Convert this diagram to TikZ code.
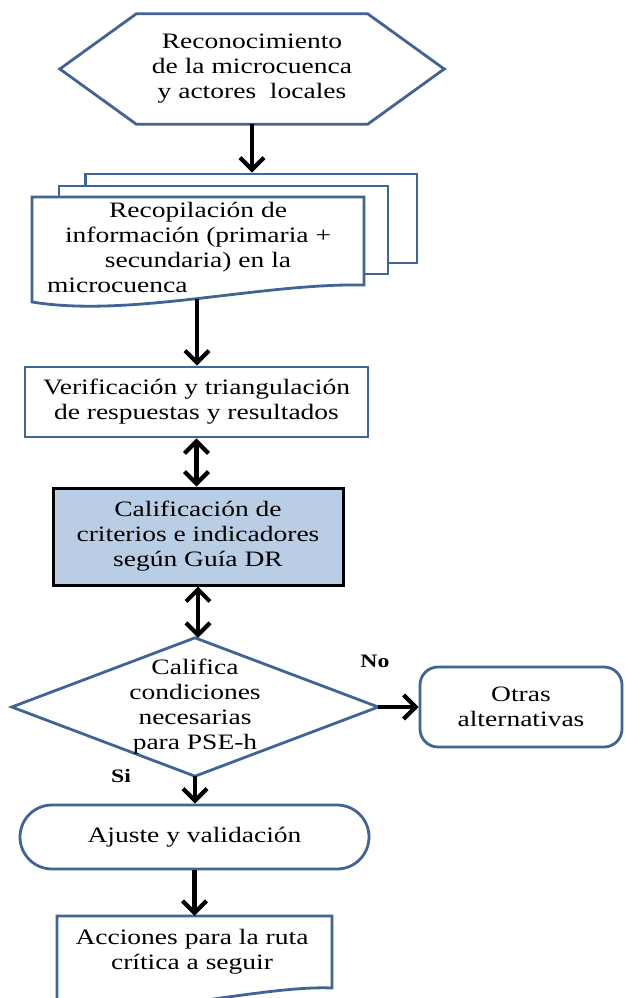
\documentclass[tikz,border=0pt]{standalone}
\usepackage{fontspec}
\setmainfont{Liberation Serif}[FakeStretch=1.25]
\usetikzlibrary{arrows.meta,backgrounds}
\definecolor{shapeblue}{RGB}{65,100,150}
\definecolor{fillblue}{RGB}{185,205,229}
\begin{document}
\begin{tikzpicture}[x=1pt,y=-1pt,
  txt/.style={font=\fontsize{22}{25}\selectfont, align=center, inner sep=0pt},
  outline/.style={draw=shapeblue, line width=2.8pt, line join=miter, fill=white},
  bare/.style={inner sep=0pt},
  arr/.style={line width=4.2pt, -{Straight Barb[length=12pt,width=24pt]}},
  darr/.style={line width=4.2pt, {Straight Barb[length=12pt,width=24pt]}-{Straight Barb[length=12pt,width=24pt]}},
  lbl/.style={font=\fontsize{19}{22}\selectfont\bfseries, inner sep=0pt}
]
\useasboundingbox (0,0) rectangle (624,998);
\clip (0,0) rectangle (624,998);

% hexagon
\node[txt, minimum width=384pt, minimum height=110pt] (hex) at (252,69)
  {Reconocimiento\\de la microcuenca\\y actores\ \ locales};
\begin{scope}[on background layer]
\draw[outline] (hex.west) -- ([xshift=76.5pt]hex.north west) -- ([xshift=-76.5pt]hex.north east)
  -- (hex.east) -- ([xshift=-76.5pt]hex.south east) -- ([xshift=76.5pt]hex.south west) -- cycle;
\end{scope}

% multi-document
\node[outline, bare, minimum width=331.4pt, minimum height=89pt] (mdb) at (251.3,218.5) {};
\node[outline, bare, minimum width=329pt, minimum height=88pt] (mdm) at (223.5,230) {};
\draw[outline] (32,197) -- (364,197) -- (364,285) .. controls (260,283) and (130,318) .. (32,302) -- cycle;
\node[txt] (mdf) at (198,250)
  {\begin{tabular}{@{}c@{}}Recopilación de\\información (primaria +\\secundaria) en la\\
   \multicolumn{1}{@{}l@{}}{\hspace*{-18pt}microcuenca}\end{tabular}};
\coordinate (mdbot) at (197,299);

% verification
\node[outline, txt, minimum width=343pt, minimum height=70pt] (ver) at (196.5,402)
  {Verificación y triangulación\\de respuestas y resultados};

% calificacion
\node[txt, draw=black, fill=fillblue, line width=3pt, minimum width=290pt, minimum height=97pt] (cal) at (198,536.5)
  {Calificación de\\criterios e indicadores\\según Guía DR};

% decision diamond
\node[txt, minimum width=366pt, minimum height=138pt] (dia) at (195,707)
  {Califica\\condiciones\\necesarias\\para PSE-h};
\begin{scope}[on background layer]
\draw[outline] (dia.north) -- (dia.east) -- (dia.south) -- (dia.west) -- cycle;
\end{scope}

% other alternatives
\node[outline, txt, rounded corners=18pt, minimum width=202pt, minimum height=80pt] (otr) at (521,707)
  {Otras\\alternativas};

% adjust
\node[outline, txt, rounded corners=32pt, minimum width=349pt, minimum height=64pt] (aju) at (194.5,837)
  {Ajuste y validación};

% final document
\draw[outline] (57,916) -- (332,916) -- (332,988) .. controls (260,985) and (140,1020) .. (57,1005) -- cycle;
\node[bare, minimum width=275pt, minimum height=78pt] (accbox) at (194.5,955) {};
\node[txt] (acc) at (192,952) {Acciones para la ruta\\crítica a seguir};

% labels
\node[lbl] (no) at (375,661) {No};
\node[lbl] (si) at (121,776) {Si};

% connectors
\draw[arr] (hex.south) -- (hex.south |- mdb.north);
\draw[arr] (mdbot) -- (mdbot |- ver.north);
\draw[darr] (ver.south) -- (ver.south |- cal.north);
\draw[darr] (cal.south) -- (cal.south |- dia.north);
\draw[arr] (dia.east) -- (otr.west);
\draw[arr] (dia.south) -- (dia.south |- aju.north);
\draw[arr] (aju.south) -- (aju.south |- accbox.north);
\end{tikzpicture}
\end{document}
